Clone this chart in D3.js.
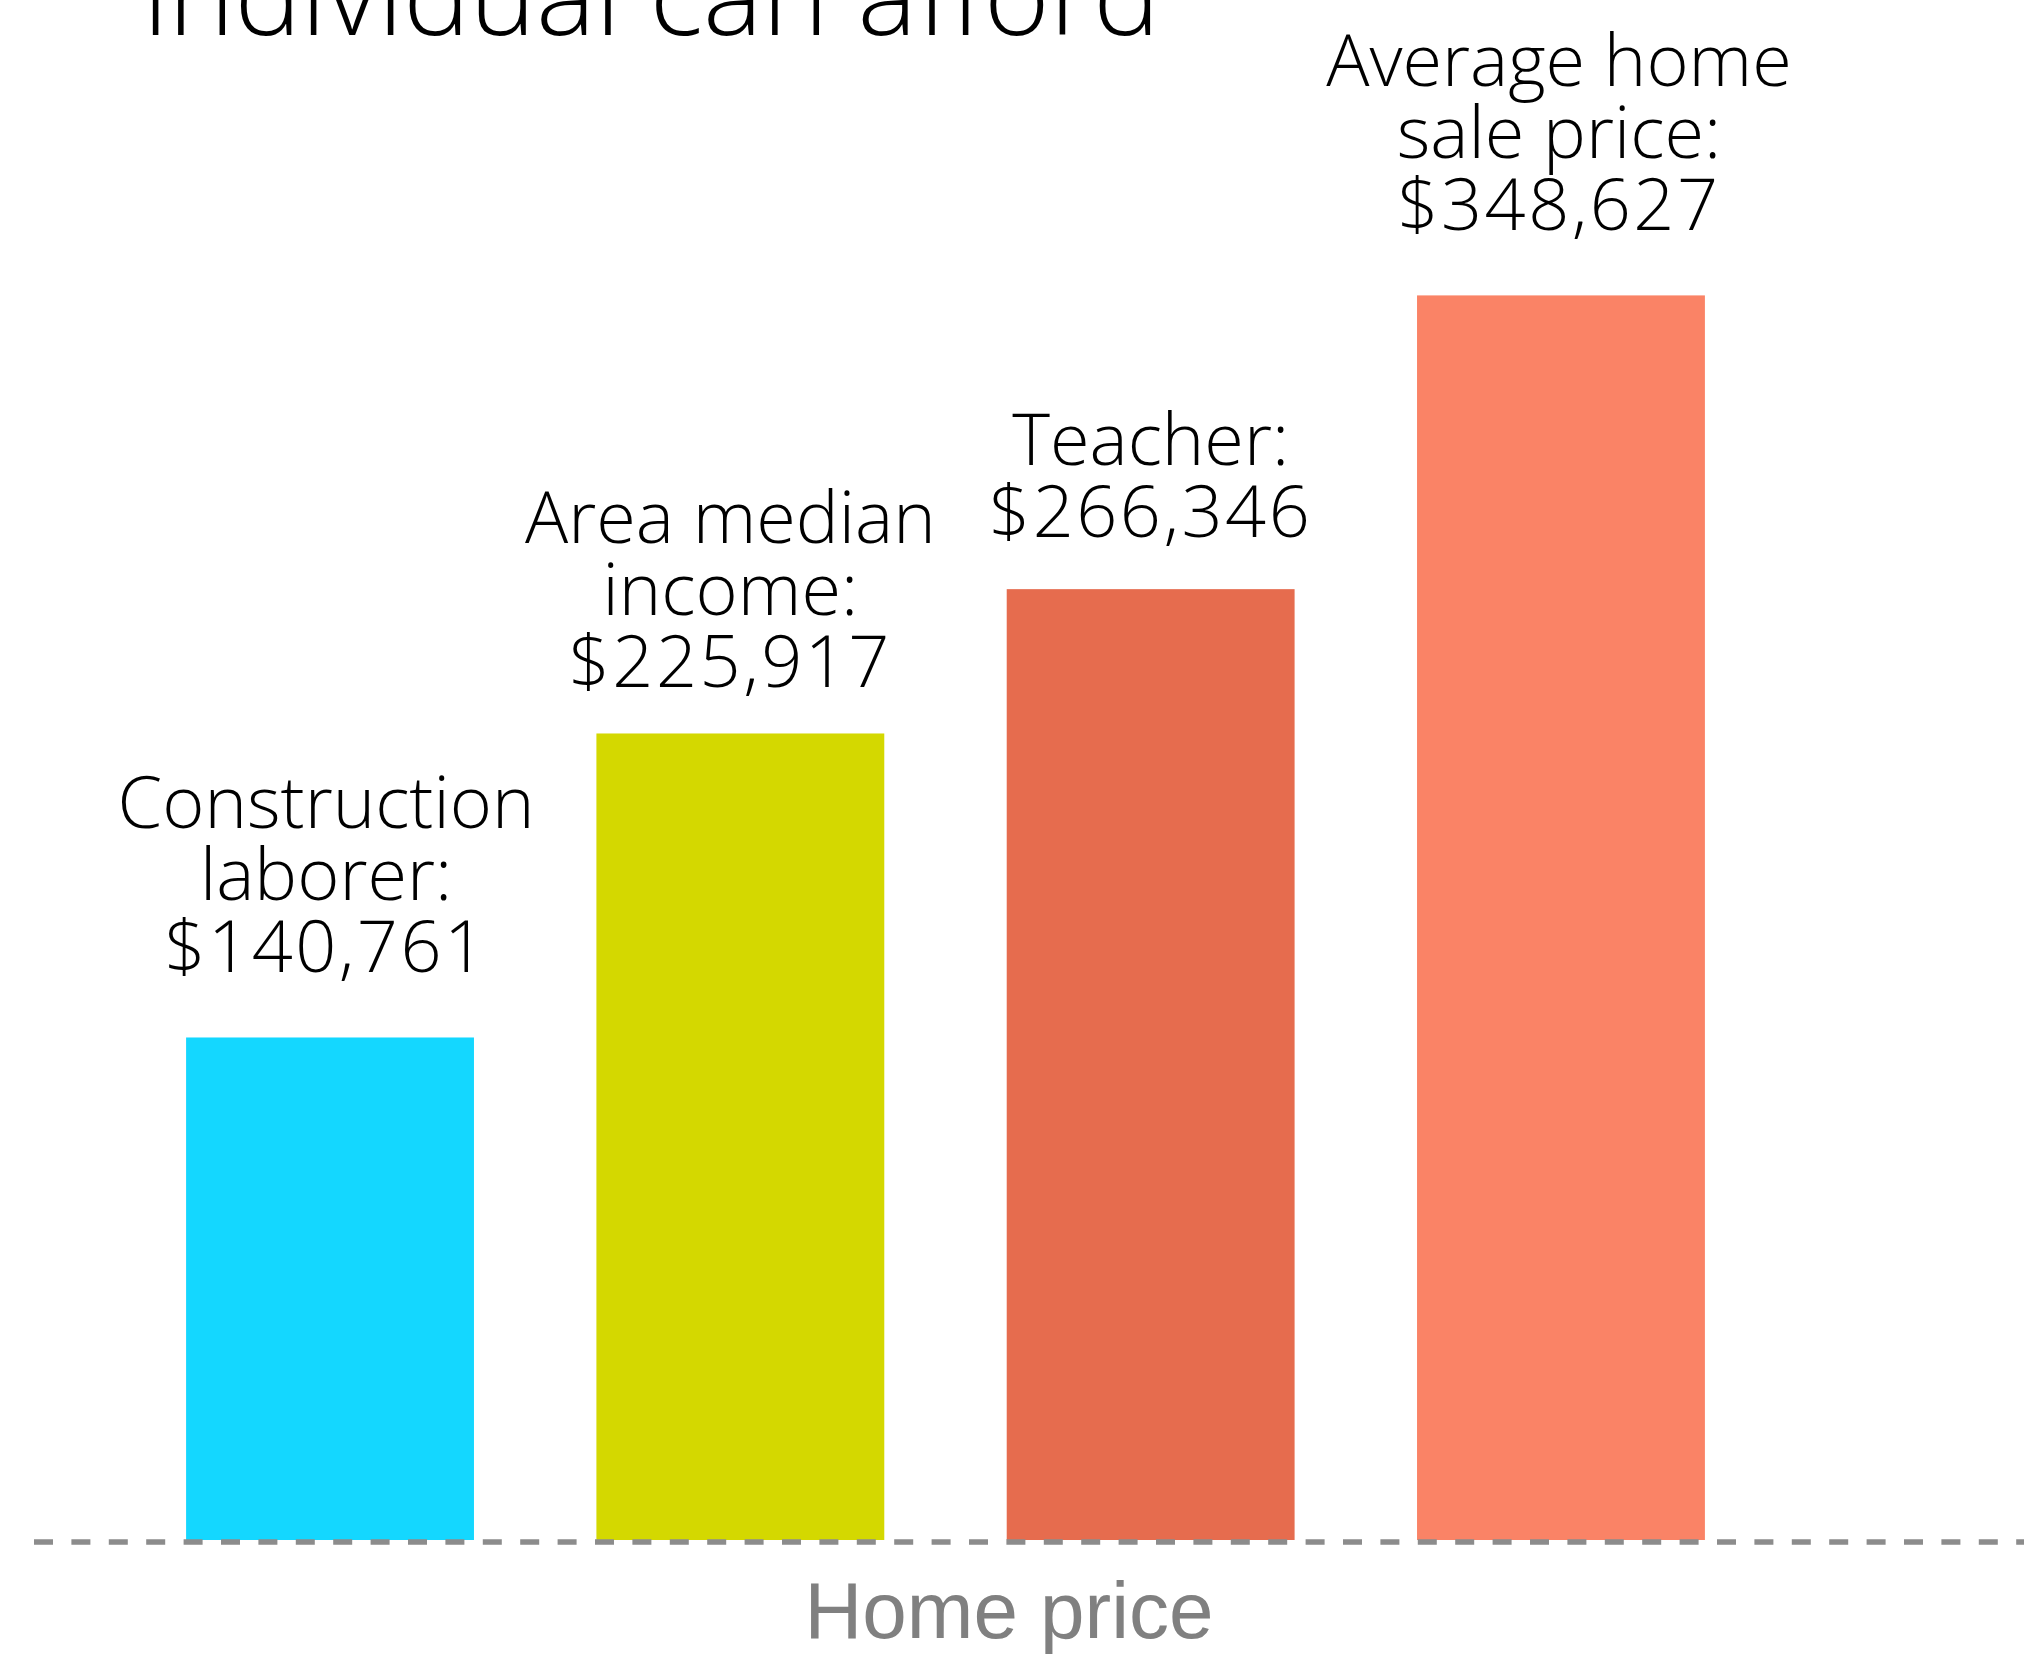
<!DOCTYPE html>
<html>
<head>
<meta charset="utf-8">
<script src="https://cdn.jsdelivr.net/npm/d3@7/dist/d3.min.js"></script>
<style>
  html, body { margin: 0; padding: 0; background: #fff; }
  svg { display: block; }
  .bar-label { font-family: 'Open Sans', 'Noto Sans', sans-serif; font-size: 72px; font-weight: 350; fill: #000; }
  .bar-label .value { letter-spacing: 2.5px; }
  .title { font-family: 'Open Sans', 'Noto Sans', sans-serif; font-size: 112px; font-weight: 350; fill: #000; }
  .axis-label { font-family: 'Liberation Sans', Arial, sans-serif; font-size: 80px; fill: #808080; }
</style>
</head>
<body>
<div id="chart"></div>
<script>
const categories = ['Construction laborer', 'Area median income', 'Teacher', 'Average home sale price']
const labelLines = [
  ['Construction', 'laborer:'],
  ['Area median', 'income:'],
  ['Teacher:'],
  ['Average home', 'sale price:']
]
const values = [140761, 225917, 266346, 348627]
const colors = ['#14d7ff', '#d4d800', '#e66c4e', '#fa8366']

const width = 2024
const height = 1654
const baseY = 1540
// gap between last label line and bar top, and a small nudge left/right
const labelGaps = [65, 46, 52, 65]
const labelNudge = [-4, -10, 0, -2]
const lineHeight = 72

const svg = d3.select('#chart')
  .append('svg')
  .attr('width', width)
  .attr('height', height)

const x = d3.scaleBand()
  .domain(categories)
  .range([63, 1828])
  .paddingInner(0.2984)
  .paddingOuter(0.3)

const y = d3.scaleLinear()
  .domain([0, 400000])
  .range([baseY, baseY - 1428])

const fmt = d3.format('$,')

// title, only the last line is left in view
svg.append('text')
  .attr('class', 'title')
  .attr('x', 143)
  .attr('y', 35)
  .text('individual can afford')

svg.selectAll('rect.bar')
  .data(values)
  .enter()
  .append('rect')
  .attr('class', 'bar')
  .attr('x', (d, i) => x(categories[i]))
  .attr('y', (d) => y(d))
  .attr('width', x.bandwidth())
  .attr('height', (d) => y(0) - y(d))
  .style('fill', (d, i) => colors[i])

const labels = svg.selectAll('text.bar-label')
  .data(values)
  .enter()
  .append('text')
  .attr('class', 'bar-label')
  .attr('text-anchor', 'middle')

labels.each(function (d, i) {
  const lines = labelLines[i].concat([fmt(d)])
  const cx = x(categories[i]) + x.bandwidth() / 2 + labelNudge[i]
  const lastY = y(d) - labelGaps[i]
  const firstY = lastY - (lines.length - 1) * lineHeight
  d3.select(this)
    .selectAll('tspan')
    .data(lines)
    .enter()
    .append('tspan')
    .attr('class', (t, j) => (j === lines.length - 1 ? 'value' : null))
    .attr('x', cx)
    .attr('y', (t, j) => firstY + j * lineHeight)
    .text((t) => t)
})

svg.append('line')
  .attr('x1', 34)
  .attr('x2', width)
  .attr('y1', baseY + 2)
  .attr('y2', baseY + 2)
  .style('stroke', '#8c8c8c')
  .style('stroke-width', 5.5)
  .style('stroke-dasharray', '19,18.4')

svg.append('text')
  .attr('class', 'axis-label')
  .attr('x', 1009)
  .attr('y', 1638)
  .attr('text-anchor', 'middle')
  .text('Home price')
</script>
</body>
</html>
